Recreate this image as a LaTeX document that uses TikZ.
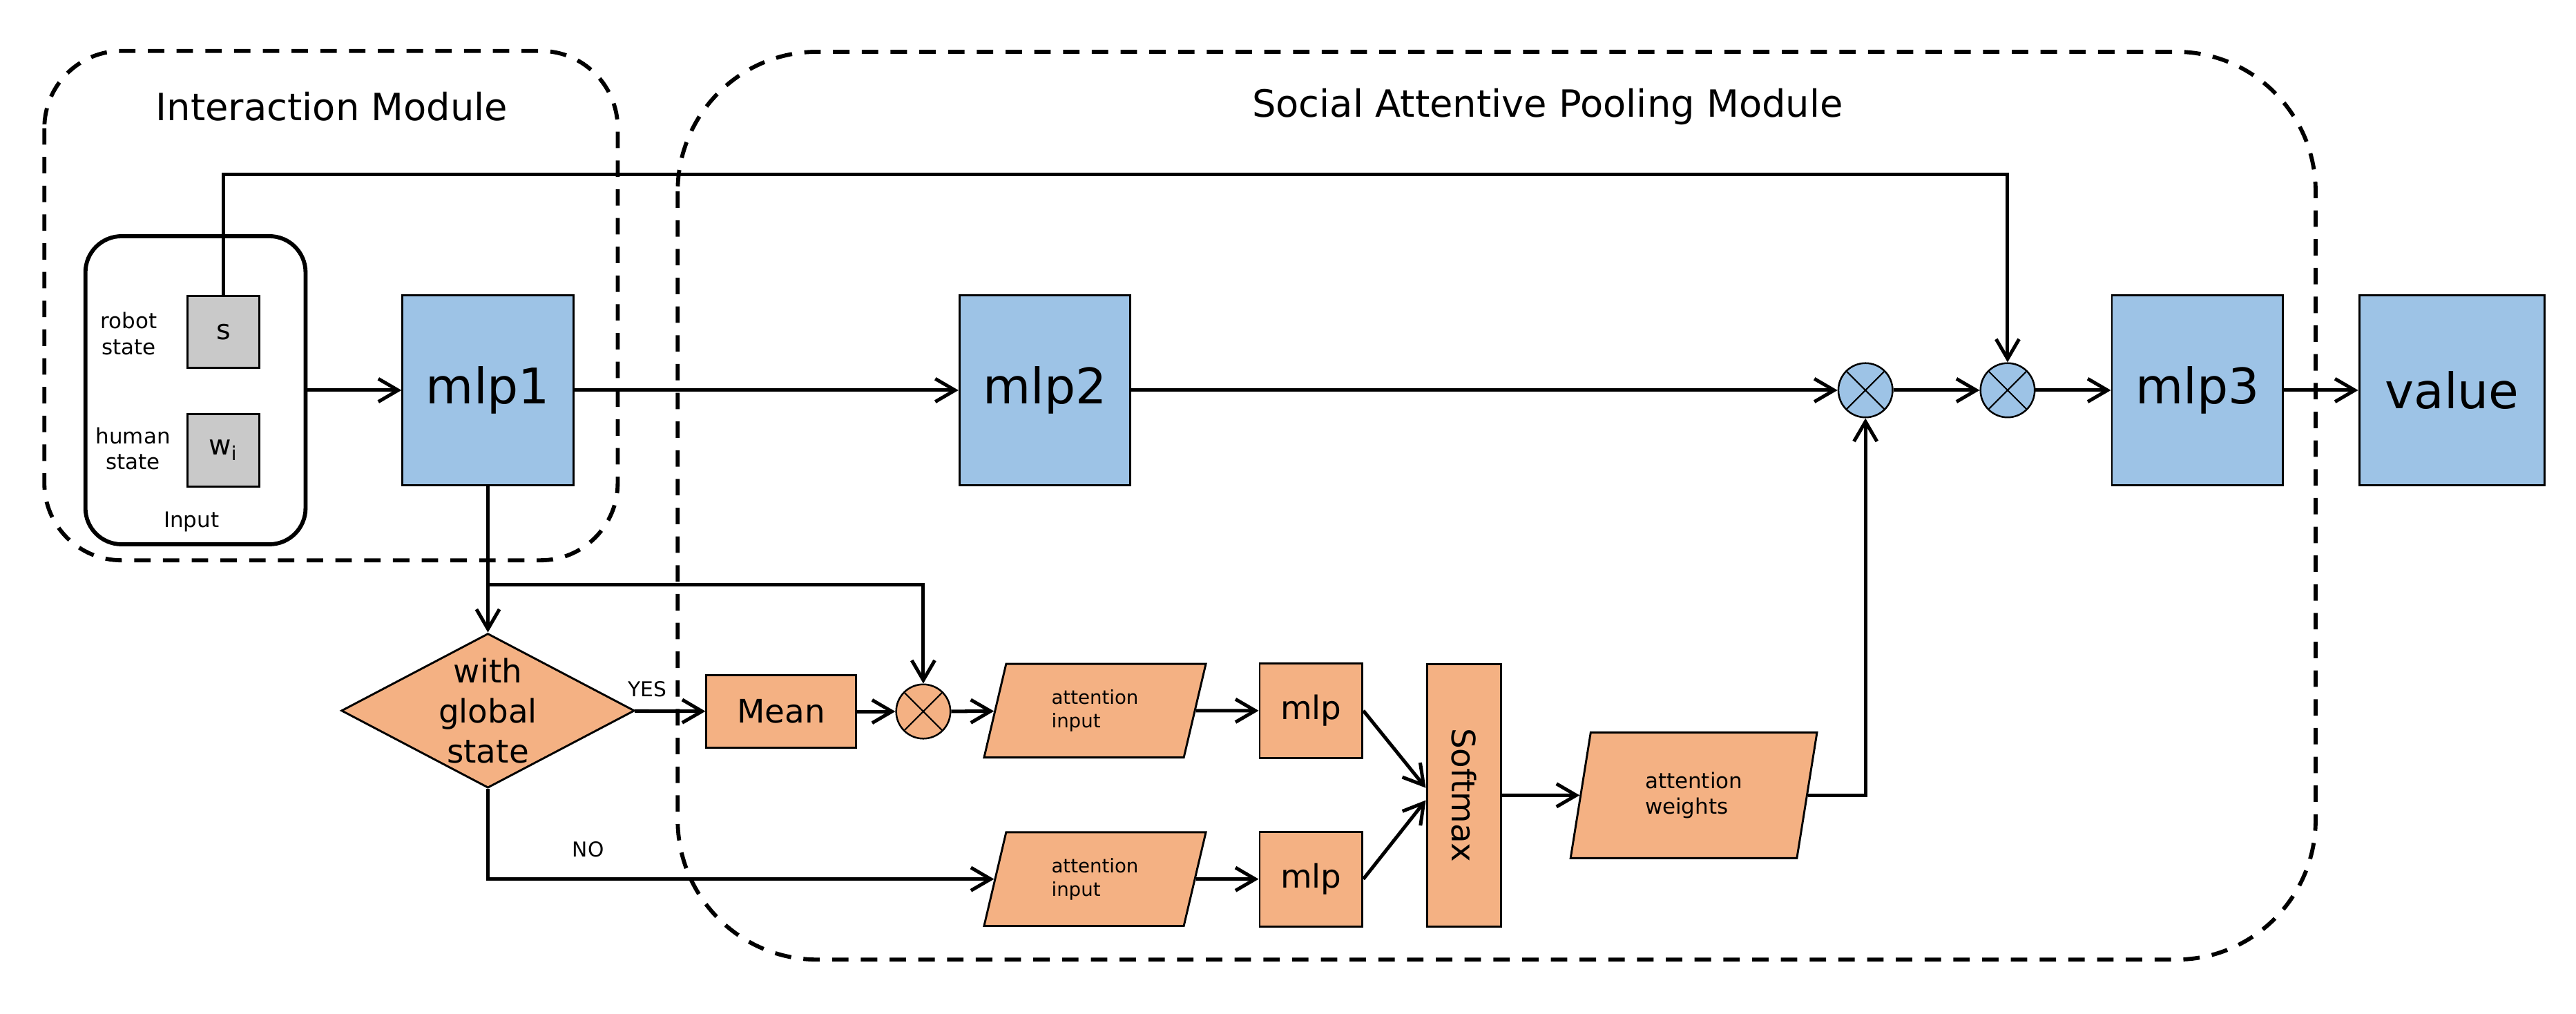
\documentclass[tikz,border=0pt]{standalone}
\usepackage{fontspec}
\setmainfont{DejaVu Sans}
\usetikzlibrary{positioning,arrows.meta,calc,shapes.geometric}
\definecolor{boxblue}{RGB}{157,195,230}
\definecolor{boxorange}{RGB}{244,177,131}
\definecolor{boxgrey}{RGB}{201,201,201}
\tikzset{
  >={Straight Barb[length=2.4mm,width=2.8mm]},
  conn/.style={->,line width=1.2pt},
  modbox/.style={draw,line width=1.4pt,dash pattern=on 2mm off 1.5mm,
    rounded corners=#1},
  modlbl/.style={font=\fontsize{13}{15}\selectfont,inner sep=0pt},
  inbox/.style={draw,line width=1.4pt,rounded corners=4.4mm,
    minimum width=26.8mm,minimum height=37.5mm},
  statebox/.style={draw,fill=boxgrey,line width=0.7pt,minimum size=8.8mm,
    inner sep=0pt,font=\fontsize{9.5}{11}\selectfont},
  bigbox/.style={draw,fill=boxblue,line width=0.7pt,minimum width=20.8mm,
    minimum height=23.1mm,inner sep=0pt,font=\fontsize{17}{20}\selectfont},
  obox/.style={draw,fill=boxorange,line width=0.7pt,inner sep=0pt,
    font=\fontsize{11.2}{13.9}\selectfont},
  decbox/.style={diamond,draw,fill=boxorange,line width=0.7pt,inner sep=0pt,
    minimum width=35.7mm,minimum height=18.8mm},
  midlbl/.style={font=\fontsize{11.2}{13.9}\selectfont,inner sep=0pt},
  smalllbl/.style={font=\fontsize{7.4}{8.9}\selectfont,align=center,inner sep=0pt},
  tinylbl/.style={font=\fontsize{6.6}{8}\selectfont,align=left},
  brlbl/.style={font=\fontsize{7.1}{8.5}\selectfont,inner sep=0pt},
  mult/.style={circle,draw,line width=0.6pt,minimum size=6.6mm,inner sep=0pt,
    path picture={\draw[line width=0.5pt]
      (path picture bounding box.north west) -- (path picture bounding box.south east)
      (path picture bounding box.south west) -- (path picture bounding box.north east);}},
  para/.style 2 args={trapezium,trapezium left angle=#1,trapezium right angle=#2,
    trapezium stretches body=true,draw,fill=boxorange,line width=0.7pt,inner sep=1pt},
}
\begin{document}
\begin{tikzpicture}[x=0.2mm,y=-0.2mm]
  \useasboundingbox (0,0) rectangle (1568,617);
  % module frames
  \draw[modbox=9.4mm] (27,31) rectangle (376,341);
  \draw[modbox=17mm] (412.5,31.5) rectangle (1409.5,584);
  \node[modlbl] (intlbl) at (202,65) {Interaction Module};
  \node[modlbl] (poollbl) at (942,65) {Social Attentive Pooling Module};

  % input
  \node[inbox] (inbox) at (119,237.5) {};
  \node[statebox] (s) at (136,202) {s};
  \node[statebox] (w) at (136,274) {w\textsubscript{i}};
  \node[smalllbl] (robotlbl) at (78.5,203) {robot\\state};
  \node[smalllbl] (humanlbl) at (81,273) {human\\state};
  \node[smalllbl] (inlbl) at (116.5,317.5) {Input};

  % upper row
  \node[bigbox] (mlp1) at (297,237.5) {mlp1};
  \node[bigbox] (mlp2) at (636,237.5) {mlp2};
  \node[mult,fill=boxblue] (mult1) at (1135.5,237.5) {};
  \node[mult,fill=boxblue] (mult2) at (1222,237.5) {};
  \node[bigbox] (mlp3) at (1337.5,237.5) {mlp3};
  \node[bigbox,minimum width=22.6mm] (value) at (1492.5,237.5) {value};

  % attention branch
  \node[decbox] (dec) at (297,432.5) {};
  \node[midlbl,align=center] (dectxt) at (dec) {with\\global\\state};
  \node[obox,minimum width=18.2mm,minimum height=8.8mm] (mean) at (475.5,433) {Mean};
  \node[mult,fill=boxorange] (mult3) at (562,433) {};
  \node[para={65}{115},minimum width=27mm,minimum height=11.4mm,tinylbl]
    (att1) at (666.5,432.5) {attention\\input};
  \node[para={65}{115},minimum width=27mm,minimum height=11.4mm,tinylbl]
    (att2) at (666.5,535) {attention\\input};
  \node[obox,minimum width=12.5mm,minimum height=11.5mm] (mlpa) at (798,432.5) {mlp};
  \node[obox,minimum width=12.5mm,minimum height=11.5mm] (mlpb) at (798,535) {mlp};
  \node[obox,minimum width=9mm,minimum height=32mm] (soft) at (891,484)
    {\rotatebox{-90}{Softmax}};
  \node[para={69}{111},minimum width=30mm,minimum height=15.3mm,
    font=\fontsize{7.4}{9}\selectfont,align=left] (attw) at (1031,484)
    {attention\\weights};
  \node[brlbl] (yes) at (394,419.5) {YES};
  \node[brlbl] (no) at (358,517) {NO};

  \coordinate (toprail) at (0,106);
  \coordinate (split) at (297,356);

  % connectors
  \draw[conn] (inbox) -- (mlp1);
  \draw[conn] (mlp1) -- (mlp2);
  \draw[conn] (mlp2) -- (mult1);
  \draw[conn] (mult1) -- (mult2);
  \draw[conn] (mult2) -- (mlp3);
  \draw[conn] (mlp3) -- (value);
  \draw[conn] (s) |- (toprail -| mult2) -- (mult2);
  \draw[conn] (mlp1) -- (dec);
  \draw[conn] (split) -| (mult3);
  \draw[conn] (dec) -- (mean);
  \draw[conn] (mean) -- (mult3);
  \draw[conn] (mult3) -- (att1);
  \draw[conn] (att1) -- (mlpa);
  \draw[conn] (dec) |- (att2);
  \draw[conn] (att2) -- (mlpb);
  \draw[conn] (mlpa.east) -- ([yshift=0.9mm]soft.west);
  \draw[conn] (mlpb.east) -- ([yshift=-0.6mm]soft.west);
  \draw[conn] (soft) -- (attw);
  \draw[conn] (attw) -| (mult1);
\end{tikzpicture}
\end{document}
